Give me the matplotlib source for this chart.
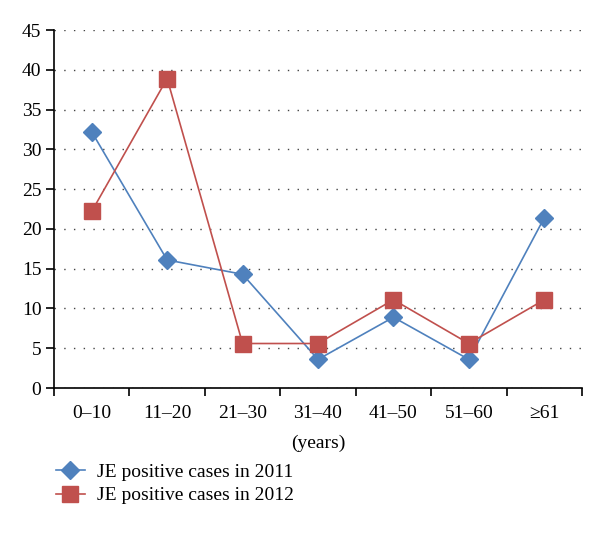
import matplotlib
matplotlib.use("Agg")
import matplotlib.pyplot as plt
import numpy as np

plt.rcParams['font.family'] = ['Liberation Serif', 'DejaVu Serif']

age_groups = ['0–10', '11–20', '21–30', '31–40', '41–50', '51–60', '≥61']
cases_2011 = [32.2, 16.1, 14.3, 3.6, 8.9, 3.6, 21.4]
cases_2012 = [22.2, 38.9, 5.6, 5.6, 11.1, 5.6, 11.1]

blue = '#4F81BD'
red = '#C0504D'

fig = plt.figure(figsize=(6, 5.36), dpi=100)
ax = fig.add_axes([0.09, 0.276, 0.88, 0.668])

x = np.arange(len(age_groups)) + 0.5
l1, = ax.plot(x, cases_2011, color=blue, lw=1.2, marker='D', markersize=9,
              markeredgecolor=blue, label='JE positive cases in 2011')
l2, = ax.plot(x, cases_2012, color=red, lw=1.2, marker='s', markersize=12,
              markeredgecolor=red, label='JE positive cases in 2012')

ax.set_xlim(0, len(age_groups))
ax.set_ylim(0, 45)
ax.set_yticks(np.arange(0, 50, 5))
ax.yaxis.grid(True, linestyle=(0, (1, 6)), color='#444444', lw=1)
ax.set_axisbelow(True)

ax.set_xticks(np.arange(0, len(age_groups) + 1))
ax.set_xticklabels([])
ax.set_xticks(x, minor=True)
ax.set_xticklabels(age_groups, minor=True)
ax.tick_params(axis='x', which='minor', length=0, pad=12, labelsize=14)
ax.tick_params(axis='x', which='major', length=6, width=1.2, direction='out')
ax.tick_params(axis='y', length=6, width=1.2, direction='out', labelsize=14, pad=3)

for s in ['top', 'right']:
    ax.spines[s].set_visible(False)
for s in ['left', 'bottom']:
    ax.spines[s].set_linewidth(1.2)

ax.set_xlabel('(years)', fontsize=14, labelpad=9)

fig.legend(handles=[l1, l2], loc='upper left', bbox_to_anchor=(0.08, 0.15),
           frameon=False, fontsize=14, handlelength=1.5, labelspacing=0.3,
           handletextpad=0.6, borderaxespad=0)

fig.savefig('out.png', dpi=100)
